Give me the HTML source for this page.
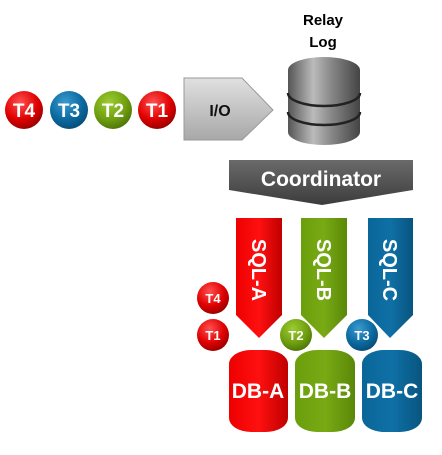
<!DOCTYPE html>
<html><head><style>
body{margin:0;width:442px;height:450px;background:#fff;overflow:hidden;font-family:"Liberation Sans",sans-serif}
</style></head><body>
<svg width="442" height="450" xmlns="http://www.w3.org/2000/svg" font-family="Liberation Sans, sans-serif" font-weight="bold">
<defs>
<radialGradient id="rr" cx="0.4" cy="0.3" r="0.75"><stop offset="0" stop-color="#ff5050"/><stop offset="0.6" stop-color="#e00000"/><stop offset="1" stop-color="#900000"/></radialGradient>
<radialGradient id="rb" cx="0.4" cy="0.3" r="0.75"><stop offset="0" stop-color="#3a9ad0"/><stop offset="0.6" stop-color="#0b6aa0"/><stop offset="1" stop-color="#064a72"/></radialGradient>
<radialGradient id="rg" cx="0.4" cy="0.3" r="0.75"><stop offset="0" stop-color="#9ccc30"/><stop offset="0.6" stop-color="#70a010"/><stop offset="1" stop-color="#4a7008"/></radialGradient>
<linearGradient id="cyl" x1="0" x2="1"><stop offset="0" stop-color="#555"/><stop offset="0.35" stop-color="#bbb"/><stop offset="0.6" stop-color="#888"/><stop offset="1" stop-color="#444"/></linearGradient>
<linearGradient id="io" x1="0" y1="0" x2="0" y2="1"><stop offset="0" stop-color="#e0e0e0"/><stop offset="1" stop-color="#a8a8a8"/></linearGradient>
<linearGradient id="coord" x1="0" y1="0" x2="0" y2="1"><stop offset="0" stop-color="#6a6a6a"/><stop offset="1" stop-color="#3c3c3c"/></linearGradient>
<linearGradient id="red" x1="0" x2="1"><stop offset="0" stop-color="#ee0000"/><stop offset="0.5" stop-color="#ff1010"/><stop offset="1" stop-color="#c00000"/></linearGradient>
<linearGradient id="grn" x1="0" x2="1"><stop offset="0" stop-color="#6a9e0c"/><stop offset="0.5" stop-color="#78aa14"/><stop offset="1" stop-color="#5a8808"/></linearGradient>
<linearGradient id="blu" x1="0" x2="1"><stop offset="0" stop-color="#0a6698"/><stop offset="0.5" stop-color="#0f70a6"/><stop offset="1" stop-color="#08557f"/></linearGradient>
</defs>
<g font-size="19" fill="#fff" text-anchor="middle">
<circle cx="24" cy="110" r="19" fill="url(#rr)"/><text x="24" y="117">T4</text>
<circle cx="69" cy="110" r="19" fill="url(#rb)"/><text x="69" y="117">T3</text>
<circle cx="113" cy="110" r="19" fill="url(#rg)"/><text x="113" y="117">T2</text>
<circle cx="157" cy="110" r="19" fill="url(#rr)"/><text x="157" y="117">T1</text>
</g>
<polygon points="184,78 242,78 273,110 242,140 184,140" fill="url(#io)" stroke="#999"/>
<text x="220" y="116" font-size="16" fill="#111" text-anchor="middle">I/O</text>
<text x="323" y="25" font-size="15" text-anchor="middle" fill="#000">Relay</text>
<text x="323" y="47" font-size="15" text-anchor="middle" fill="#000">Log</text>
<path d="M288,70 L288,132 A36,13 0 0 0 360,132 L360,70 Z" fill="url(#cyl)"/>
<ellipse cx="324" cy="70" rx="36" ry="13" fill="url(#cyl)"/>
<path d="M288,93 A36,13 0 0 0 360,93" fill="none" stroke="#222" stroke-width="2.5"/>
<path d="M288,112 A36,13 0 0 0 360,112" fill="none" stroke="#222" stroke-width="2.5"/>
<polygon points="229,160 413,160 413,190 322,205 229,190" fill="url(#coord)"/>
<text x="321" y="186" font-size="21" fill="#fff" text-anchor="middle">Coordinator</text>
<polygon points="236,218 282,218 282,315 259,338 236,315" fill="url(#red)"/>
<polygon points="301,218 347,218 347,315 324,338 301,315" fill="url(#grn)"/>
<polygon points="368,218 413,218 413,315 390,338 368,315" fill="url(#blu)"/>
<g font-size="20" fill="#fff" text-anchor="middle">
<text transform="translate(252,270) rotate(90)">SQL-A</text>
<text transform="translate(317,270) rotate(90)">SQL-B</text>
<text transform="translate(383,270) rotate(90)">SQL-C</text>
</g>
<g font-size="13" fill="#fff" text-anchor="middle">
<circle cx="213" cy="298" r="16" fill="url(#rr)"/><text x="213" y="303">T4</text>
<circle cx="213" cy="335" r="16" fill="url(#rr)"/><text x="213" y="340">T1</text>
<circle cx="296" cy="335" r="16" fill="url(#rg)"/><text x="296" y="340">T2</text>
<circle cx="362" cy="335" r="16" fill="url(#rb)"/><text x="362" y="340">T3</text>
</g>
<rect x="229" y="350" width="59" height="82" rx="22" ry="14" fill="url(#red)"/>
<rect x="295" y="350" width="60" height="82" rx="22" ry="14" fill="url(#grn)"/>
<rect x="362" y="350" width="60" height="82" rx="22" ry="14" fill="url(#blu)"/>
<g font-size="21" fill="#fff" text-anchor="middle">
<text x="258" y="398">DB-A</text>
<text x="325" y="398">DB-B</text>
<text x="392" y="398">DB-C</text>
</g>
</svg>
</body></html>
